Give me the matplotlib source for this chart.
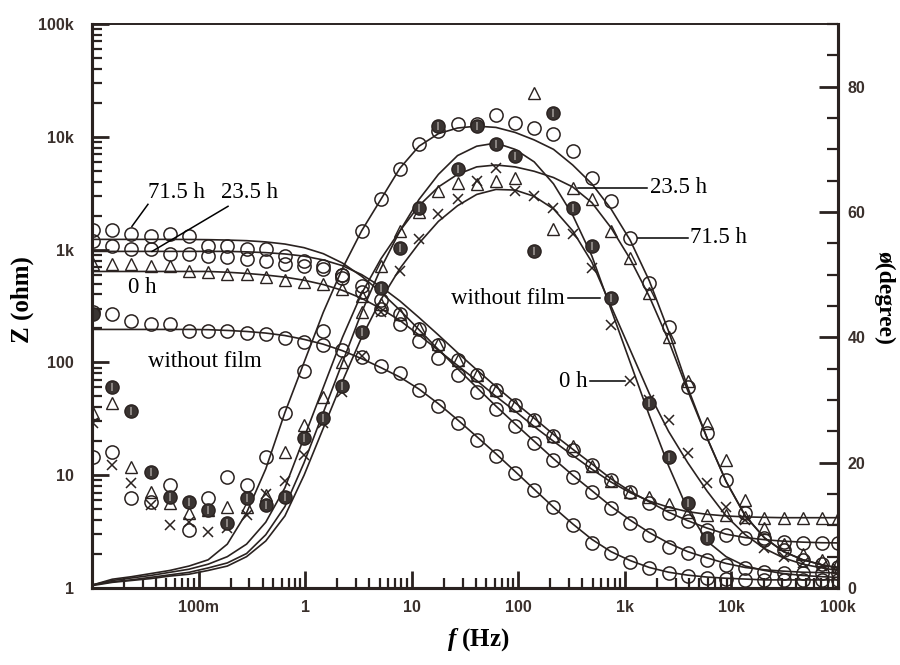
import numpy as np
import matplotlib
matplotlib.use("Agg")
import matplotlib.pyplot as plt
import matplotlib.ticker as mticker

plt.rcParams['mathtext.fontset'] = 'custom'
plt.rcParams['mathtext.it'] = 'Liberation Serif:italic:bold'
plt.rcParams['mathtext.rm'] = 'Liberation Serif:bold'

freq = [0.0102, 0.0155, 0.0234, 0.0355, 0.0537, 0.0813, 0.123, 0.186, 0.282, 0.427,
        0.646, 0.977, 1.48, 2.24, 3.39, 5.13, 7.76, 11.7, 17.8, 26.9,
        40.7, 61.7, 93.3, 141, 214, 324, 490, 741, 1122, 1698,
        2570, 3890, 5888, 8913, 13490, 20420, 30900, 46770, 70790, 100000]
nan = np.nan

# |Z| data (ohm)
z_715 = [1480, 1480, 1365, 1310, 1365, 1310, 1067, 1067, 1004, 1004,
         871, 786, 710, 560, 420, 300, 217, 156, 110, 78,
         55, 39, 27.5, 19.4, 13.7, 9.7, 7.1, 5.1, 3.8, 2.96,
         2.31, 2.05, 1.77, 1.6, 1.51, 1.39, 1.36, 1.36, 1.36, 1.36]
z_715_fit = [1232, 1232, 1232, 1232, 1232, 1230, 1225, 1215, 1200, 1170,
             1120, 1040, 920, 760, 580, 420, 290, 195, 130, 88,
             60, 41, 28.5, 20, 14, 10, 7.3, 5.3, 4.0, 3.1,
             2.5, 2.1, 1.85, 1.65, 1.52, 1.45, 1.41, 1.38, 1.37, 1.36]
z_235 = [1183, 1067, 1004, 1004, 906, 906, 871, 853, 819, 786,
         739, 710, 667, 600, 480, 361, 266, 196, 144, 106,
         78, 57, 42, 31, 22.4, 16.8, 12.4, 9.1, 7.1, 5.7,
         4.6, 3.9, 3.3, 2.96, 2.78, 2.67, 2.56, 2.51, 2.51, 2.51]
z_235_fit = [964, 964, 964, 964, 964, 964, 964, 964, 955, 940,
             915, 875, 810, 720, 600, 470, 350, 250, 175, 122,
             86, 61, 44, 32, 23, 17, 12.6, 9.3, 7.2, 5.8,
             4.7, 3.95, 3.4, 3.0, 2.8, 2.68, 2.6, 2.55, 2.52, 2.51]
z_0 = [740, 739, 739, 710, 710, 640, 630, 602, 602, 566,
       543, 512, 491, 443, 384, 330, 270, 200, 146, 106,
       78, 57, 42, 31, 22.4, 18, 12, 8.8, 7.1, 6.4,
       5.5, 4.7, 4.45, 4.45, 4.3, 4.2, 4.2, 4.2, 4.2, 4.2]
z_0_fit = [640, 640, 640, 640, 640, 640, 640, 630, 615, 595,
           570, 535, 490, 435, 370, 300, 235, 175, 128, 94,
           69, 50, 37, 27, 20, 15, 11.3, 8.7, 7.0, 5.9,
           5.2, 4.75, 4.5, 4.35, 4.27, 4.23, 4.2, 4.2, 4.2, 4.2]
z_wf = [280, 266, 231, 217, 217, 188, 188, 188, 184, 177,
        166, 153, 144, 130, 112, 92, 81, 57, 41, 29,
        20.6, 14.9, 10.5, 7.4, 5.2, 3.6, 2.51, 2.05, 1.7, 1.51,
        1.36, 1.28, 1.23, 1.2, 1.18, 1.18, 1.18, 1.18, 1.18, 1.18]
z_wf_fit = [196, 196, 196, 196, 196, 196, 195, 192, 188, 182,
            173, 160, 145, 127, 108, 90, 74, 58, 43, 31,
            22, 15.5, 10.8, 7.5, 5.2, 3.7, 2.7, 2.1, 1.75, 1.52,
            1.38, 1.3, 1.25, 1.22, 1.2, 1.18, 1.18, 1.18, 1.18, 1.18]

# phase data (degree)
p_715 = [20.9, 21.7, 14.3, 13.7, 16.4, 9.2, 14.3, 17.7, 16.4, 20.9,
         27.9, 34.7, 41, 50, 57, 62, 66.9, 70.9, 73, 74,
         74, 75.5, 74.2, 73.4, 72.5, 69.7, 65.4, 61.8, 55.9, 48.7,
         41.6, 32, 24.7, 17.2, 12, 8, 6, 4.5, 3.8, 3.3]
p_715_fit = [0.5, 1.4, 1.8, 2.3, 2.8, 3.5, 4.5, 7, 12, 19,
             28, 36, 44, 51, 57, 62, 67, 70.5, 72.5, 73.4,
             73.7, 73.5, 72.7, 71.5, 70, 67.5, 64.5, 60.5, 55.5, 49,
             41, 32, 24, 17, 11.5, 8, 5.8, 4.5, 3.7, 3.2]
p_235 = [27.9, 29.6, 19.3, 15.3, 13.5, 12, 12.5, 12.9, 12.9, 14.8,
         21.7, 26, 30.4, 36, 44, 51.4, 57, 60, 63.4, 64.6,
         64.5, 65, 65.4, 79, 57.3, 63.9, 62.1, 57, 52.7, 47,
         40, 33, 26.3, 20.4, 14, 9.5, 7, 5.5, 4.5, 4]
p_235_fit = [0.5, 1.2, 1.6, 2, 2.5, 3, 3.8, 5, 7, 10.5,
             16, 24, 32, 40, 47, 52.5, 57, 61, 64, 66,
             67.2, 67.5, 67.2, 66.5, 65.5, 64, 61.5, 57.5, 52.5, 46.5,
             39.5, 31.5, 24, 17, 11.5, 8, 5.8, 4.5, 3.7, 3.2]
p_0 = [26.3, 19.6, 16.7, 13.2, 10, 10.5, 8.9, 9.5, 11.6, 15,
       17, 21.2, 26.4, 31.2, 37, 44, 50.6, 55.7, 59.7, 62.1,
       65, 67, 63.4, 62.6, 60.7, 56.5, 51, 42, 33, 30,
       26.8, 21.5, 16.7, 12.9, 10.8, 6.4, 5, 4, 3.5, 3]
p_0_fit = [0.4, 0.9, 1.2, 1.5, 1.9, 2.2, 2.8, 3.5, 5, 7.5,
           11.5, 18, 25.5, 33, 40, 46, 51, 55, 58.5, 61,
           62.8, 63.6, 63.5, 62.5, 60.5, 57, 52, 45, 38, 31,
           25, 20, 15.5, 11.5, 8.5, 6.3, 4.8, 3.8, 3.2, 2.8]
p_wf = [43.8, 32, 28.3, 18.5, 14.5, 13.7, 12.4, 10.4, 14.3, 13.2,
        14.5, 23.9, 27.2, 32.3, 40.8, 47.9, 54.3, 60.7, 73.7, 66.9,
        73.7, 70.9, 69, 53.8, 75.8, 60.7, 54.6, 46.3, nan, 29.6,
        20.9, 13.5, 8, nan, nan, nan, nan, nan, nan, nan]
p_wf_fit = [0.5, 1, 1.3, 1.7, 2.1, 2.5, 3.2, 4, 5.5, 8.5,
            13, 20, 28, 36, 44, 51, 57, 62, 66, 69,
            70.5, 71, 70, 68, 64.5, 59.5, 53, 44.5, 36, 27.5,
            19.5, 12.5, 7.5, 5, 3.5, 2.8, 2.3, 2, 1.8, 1.7]

xticks = [0.01, 0.1, 1, 10, 100, 1e3, 1e4, 1e5]
xlabels = ['', '100m', '1', '10', '100', '1k', '10k', '100k']
zticks = [1, 10, 100, 1e3, 1e4, 1e5]
zlabels = ['1', '10', '100', '1k', '10k', '100k']
pticks = [0, 20, 40, 60, 80]

ink = '#2a2220'
serif = 'Liberation Serif'

fig = plt.figure(figsize=(9, 6.65), dpi=100)
ax = fig.add_axes([92 / 900, 77 / 665, 746 / 900, 564 / 665])
ax2 = ax.twinx()

ax.set_xscale('log')
ax.set_yscale('log')
ax.set_xlim(0.01, 1e5)
ax.set_ylim(1, 1e5)
ax2.set_ylim(0, 90)

lw = 1.2
circ = dict(marker='o', ms=9.5, mfc='none', mec=ink, mew=1.1, ls='none')
tri = dict(marker='^', ms=8, mfc='none', mec=ink, mew=1.0, ls='none')
cross = dict(marker='x', ms=7.5, mec=ink, mew=1.1, ls='none')
fill = dict(marker='o', ms=9.5, mfc='#3a3432', mec=ink, mew=1.0, ls='none')

# impedance
for fit in (z_715_fit, z_235_fit, z_0_fit, z_wf_fit):
    ax.plot(freq, fit, color=ink, lw=lw)
ax.plot(freq, z_715, **circ)
ax.plot(freq, z_235, **circ)
ax.plot(freq, z_0, **tri)
ax.plot(freq, z_wf, **circ)

# phase
for fit in (p_715_fit, p_235_fit, p_0_fit, p_wf_fit):
    ax2.plot(freq, fit, color=ink, lw=lw)
ax2.plot(freq, p_715, **circ)
ax2.plot(freq, p_235, **tri)
ax2.plot(freq, p_0, **cross)
ax2.plot(freq, p_wf, **fill)
ax2.plot(freq, p_wf, marker='|', ms=6, mec='#9a9490', mew=1.2, ls='none')

# ticks and spines
ax.xaxis.set_major_locator(mticker.FixedLocator(xticks))
ax.xaxis.set_major_formatter(mticker.FixedFormatter(xlabels))
ax.yaxis.set_major_locator(mticker.FixedLocator(zticks))
ax.yaxis.set_major_formatter(mticker.FixedFormatter(zlabels))
ax.xaxis.set_minor_locator(mticker.LogLocator(base=10, subs=np.arange(2, 10), numticks=20))
ax.yaxis.set_minor_locator(mticker.LogLocator(base=10, subs=np.arange(2, 10), numticks=20))
ax.xaxis.set_minor_formatter(mticker.NullFormatter())
ax.yaxis.set_minor_formatter(mticker.NullFormatter())
ax2.yaxis.set_major_locator(mticker.FixedLocator(pticks))
ax2.yaxis.set_minor_locator(mticker.MultipleLocator(5))

ax.tick_params(which='both', direction='in', colors=ink, top=False, right=False)
ax.tick_params(which='major', length=12, width=2)
ax.tick_params(which='minor', length=7, width=1.6)
ax.tick_params(axis='x', which='major', pad=9)
ax.tick_params(axis='y', which='major', pad=13)
ax2.tick_params(which='both', direction='in', colors=ink)
ax2.tick_params(which='major', length=14, width=2, pad=7)
ax2.tick_params(which='minor', length=8, width=1.6)

for t in ax.get_xticklabels() + ax.get_yticklabels() + ax2.get_yticklabels():
    t.set_fontfamily('Liberation Sans')
    t.set_fontweight('bold')
    t.set_fontsize(11.5)
    t.set_color('#3a302c')

for a in (ax, ax2):
    for s in a.spines.values():
        s.set_color(ink)
        s.set_linewidth(2.2)
    a.spines['top'].set_linewidth(1.2)

# axis titles
fig.text(22 / 900, 1 - 300 / 665, 'Z (ohm)', rotation=90, ha='center', va='center',
         family=serif, fontweight='bold', fontsize=18)
fig.text(478 / 900, 1 - 640 / 665, r'$\mathit{f}$ (Hz)', ha='center', va='center',
         family=serif, fontweight='bold', fontsize=18)
fig.text(884 / 900, 1 - 298 / 665, 'ø(degree)', rotation=270, ha='center', va='center',
         family=serif, fontweight='bold', fontsize=17)

# labels on the impedance curves
fs = 16.5
ax.text(0.0627, 3220, '71.5 h', family=serif, fontsize=fs, ha='center', va='center')
ax.plot([0.0335, 0.0237], [2520, 1607], color='black', lw=1.1)
ax.text(0.302, 3220, '23.5 h', family=serif, fontsize=fs, ha='center', va='center')
ax.plot([0.189, 0.0366], [2420, 964], color='black', lw=1.1)
ax.text(0.0294, 462, '0 h', family=serif, fontsize=fs, ha='center', va='center')
ax.text(0.115, 102, 'without film', family=serif, fontsize=fs, ha='center', va='center')

# labels on the phase curves
ax2.text(1714, 63.9, '23.5 h', family=serif, fontsize=fs, ha='left', va='center')
ax2.plot([362, 1607], [63.9, 63.9], color='black', lw=1.1)
ax2.text(4074, 55.9, '71.5 h', family=serif, fontsize=fs, ha='left', va='center')
ax2.plot([1324, 3890], [55.9, 55.9], color='black', lw=1.1)
ax2.text(273, 46.2, 'without film', family=serif, fontsize=fs, ha='right', va='center')
ax2.plot([292, 582], [46.2, 46.2], color='black', lw=1.1)
ax2.text(445, 33, '0 h', family=serif, fontsize=fs, ha='right', va='center')
ax2.plot([470, 1000], [33, 33], color='black', lw=1.1)

fig.savefig('out.png', dpi=100)
